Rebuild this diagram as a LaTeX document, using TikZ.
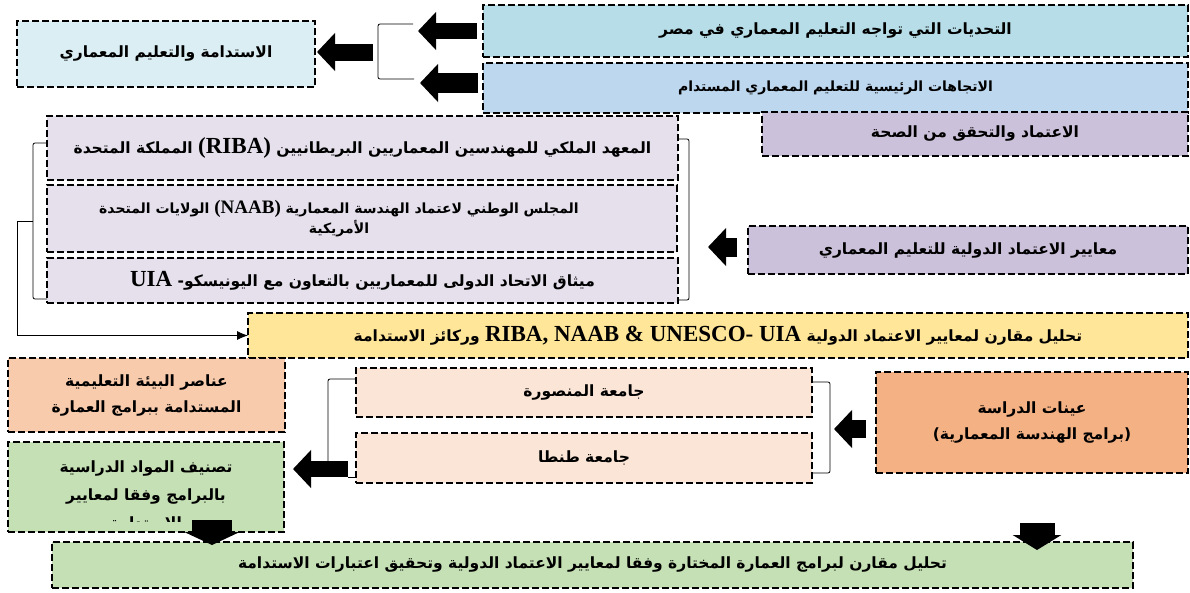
\documentclass[tikz,border=0pt]{standalone}
\usepackage{fontspec}
\usetikzlibrary{arrows.meta}
\TeXXeTstate=1
\newfontfamily\arabicfont[Script=Arabic]{DejaVu Sans}
\newfontfamily\latinfont{Liberation Serif}
\newcommand{\ar}[1]{{\arabicfont\bfseries\beginR #1\endR}}
\newcommand{\lat}[2][23]{\beginL{\latinfont\bfseries\fontsize{#1}{#1}\selectfont #2}\endL}
\definecolor{chalblue}{HTML}{B7DEE8}
\definecolor{trendblue}{HTML}{BDD7EE}
\definecolor{sustblue}{HTML}{DAEEF3}
\definecolor{lilac}{HTML}{CCC1DA}
\definecolor{palelilac}{HTML}{E5E0EC}
\definecolor{gold}{HTML}{FFE699}
\definecolor{peach}{HTML}{F8CBAD}
\definecolor{palepeach}{HTML}{FBE5D6}
\definecolor{orange}{HTML}{F4B183}
\definecolor{sage}{HTML}{C5E0B4}
\begin{document}
\begin{tikzpicture}[x=1pt, y=-1pt,
  box/.style={draw=black, line width=1.6pt, dash pattern=on 7pt off 3pt, inner sep=0pt, outer sep=0pt, anchor=north west, align=center, font=\fontsize{15.5}{26}\selectfont},
  small/.style={font=\fontsize{14}{20}\selectfont},
  txt/.style={inner sep=0pt, align=center, font=\fontsize{15.5}{28}\selectfont},
  bracket/.style={draw=black, line width=0.8pt, rounded corners=2pt},
  blockarrow/.style={line width=17pt, -{Triangle[length=18pt, width=37pt]}},
  downarrow/.style={line width=#1, -{Triangle[length=13pt, width=55pt]}}]
  \useasboundingbox (0,0) rectangle (1190,592);
  % Top row
  \node [box, fill=chalblue, minimum width=705, minimum height=52] (chal) at (483,5) {\ar{التحديات التي تواجه التعليم المعماري في مصر}};
  \node [box, small, fill=trendblue, minimum width=705, minimum height=50] (trend) at (483,63) {\ar{الاتجاهات الرئيسية للتعليم المعماري المستدام}};
  \node [box, fill=sustblue, minimum width=298, minimum height=66] (sust) at (17,21) {\ar{الاستدامة والتعليم المعماري}};
  \node [box, fill=lilac, minimum width=426, minimum height=44] (accr) at (762,112) {\ar{الاعتماد والتحقق من الصحة}};
  % Accreditation bodies
  \node [box, fill=palelilac, minimum width=631, minimum height=64] (riba) at (47,116) {\ar{المعهد الملكي للمهندسين المعماريين البريطانيين \lat{(RIBA)} المملكة المتحدة}};
  \node [box, small, fill=palelilac, minimum width=630, minimum height=67] (naab) at (47,185) {\ar{المجلس الوطني لاعتماد الهندسة المعمارية \lat[19]{(NAAB)} الولايات المتحدة}\hspace*{46pt}\\\ar{الأمريكية}\hspace*{46pt}};
  \node [box, fill=palelilac, minimum width=631, minimum height=45] (uia) at (47,258) {\ar{ميثاق الاتحاد الدولى للمعماريين بالتعاون مع اليونيسكو\kern0pt- \lat{UIA}}};
  \node [box, fill=lilac, minimum width=440, minimum height=48] (std) at (748,226) {\ar{معايير الاعتماد الدولية للتعليم المعماري}};
  \node [box, fill=gold, minimum width=940, minimum height=45] (cmp) at (248,313) {\ar{تحليل مقارن لمعايير الاعتماد الدولية \lat{RIBA, NAAB \& UNESCO- UIA} وركائز الاستدامة}};
  % Case studies
  \node [box, fill=peach, minimum width=277, minimum height=74] (elem) at (8,358) {\ar{عناصر البيئة التعليمية}\\\ar{المستدامة ببرامج العمارة}};
  \node [box, fill=sage, minimum width=276, minimum height=90] (cls) at (8,442) {};
  \begin{scope}
    \clip (cls.north west) rectangle (284,521);
    \node [txt] (clstxt) at (146,495) {\ar{تصنيف المواد الدراسية}\\\ar{بالبرامج وفقا لمعايير}\\\ar{الاستدامة}};
  \end{scope}
  \node [box, fill=palepeach, minimum width=456, minimum height=49] (mans) at (356,368) {\ar{جامعة المنصورة}};
  \node [box, fill=palepeach, minimum width=456, minimum height=50] (tanta) at (356,433) {\ar{جامعة طنطا}};
  \node [box, fill=orange, minimum width=312, minimum height=101] (smp) at (876,372) {\ar{عينات الدراسة}\\\ar{(\kern0pt برامج الهندسة المعمارية\kern0pt)}};
  \node [box, fill=sage, minimum width=1081, minimum height=46] (final) at (52,542) {\ar{تحليل مقارن لبرامج العمارة المختارة وفقا لمعايير الاعتماد الدولية وتحقيق اعتبارات الاستدامة}};
  % Brackets
  \coordinate (tb) at (378,52);
  \draw [bracket] (413,24) -- (378,24) -- (378,79) -- (414,79);
  \draw [bracket] (riba.west |- 0,143) -- (33,143) -- (33,299) -- (uia.west |- 0,299);
  \draw [bracket] (riba.east |- 0,139) -- (689,139) -- (689,300) -- (uia.east |- 0,300);
  \draw [bracket] (mans.east |- 0,382) -- (830,382) -- (830,473) -- (tanta.east |- 0,473);
  \coordinate (lb) at (33,221);
  \draw [line width=0.8pt, -{Latex[length=11pt, width=9pt]}] (lb) -- (17,221) |- (cmp.west);
  \coordinate (gb) at (348,469);
  \draw [bracket] (mans.west |- 0,379) -- (328,379) -- (328,461);
  \draw [line width=0.8pt] (tanta.west |- 0,477) -- (gb |- 0,477);
  % Block arrows
  \coordinate (b1) at (418,31);
  \coordinate (b2) at (420,83);
  \coordinate (rb) at (708,247);
  \coordinate (ub) at (834,429);
  \draw [blockarrow, line width=16pt, shorten <=6pt] (chal.west |- b1) -- (b1);
  \draw [blockarrow, line width=20pt, shorten <=5pt] (trend.west |- b2) -- (b2);
  \draw [blockarrow, shorten >=2pt] ([xshift=-5pt]tb) -- (sust.east |- tb);
  \draw [blockarrow, line width=19pt, shorten <=11pt] (std.west |- rb) -- (rb);
  \draw [blockarrow, line width=18pt, shorten <=10pt] (smp.west |- ub) -- (ub);
  \draw [blockarrow, line width=16pt, shorten >=9pt] (gb) -- (cls.east |- gb);
  \coordinate (d1) at (212,520);
  \coordinate (d2) at (1037,523);
  \draw [downarrow=40pt, shorten >=-3pt] (d1) -- (d1 |- final.north);
  \draw [downarrow=35pt, -{Triangle[length=15pt, width=48pt]}, shorten >=-8pt] (d2) -- (d2 |- final.north);
\end{tikzpicture}
\end{document}
